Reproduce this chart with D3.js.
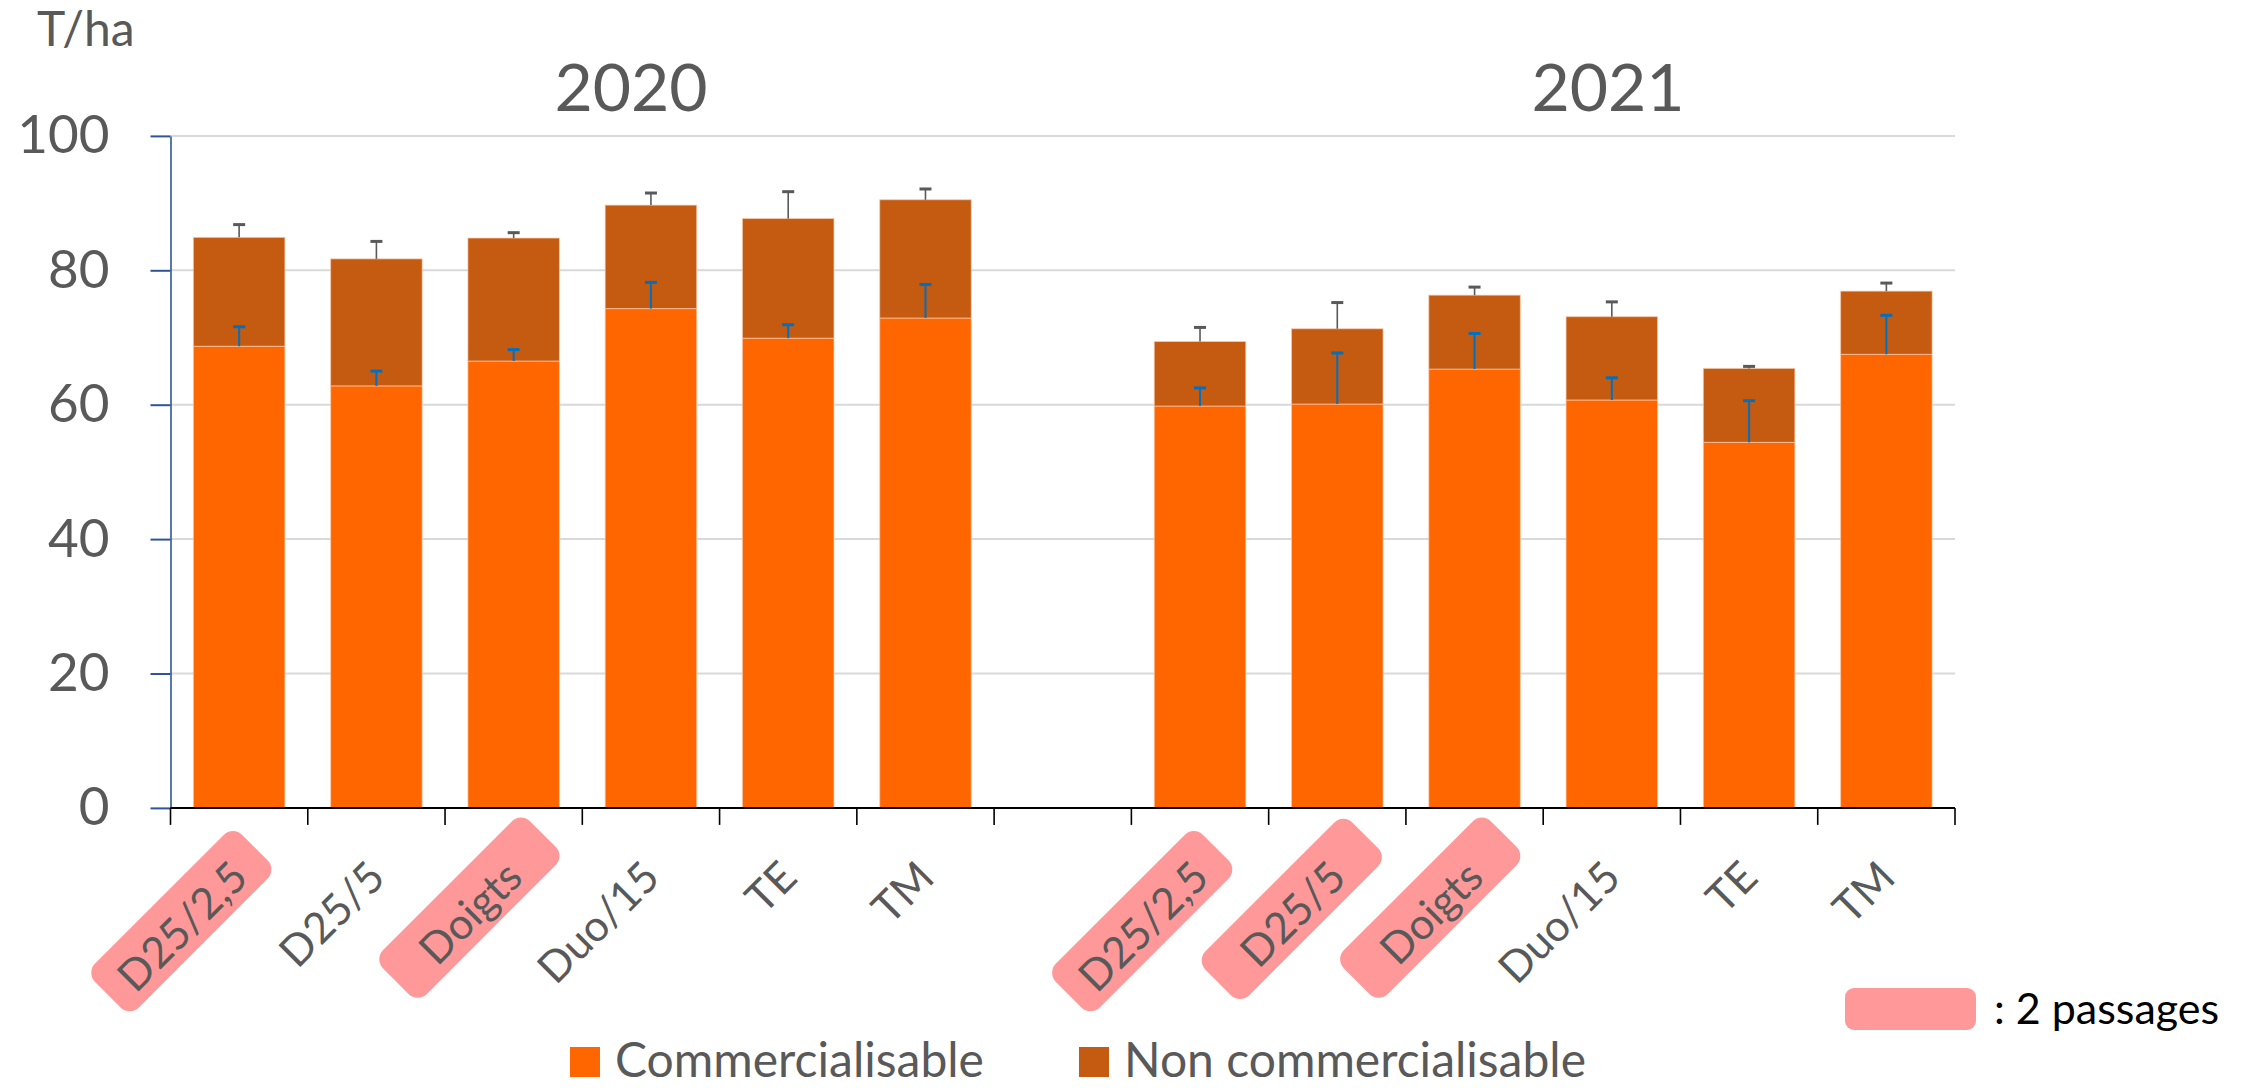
<!DOCTYPE html>
<html>
<head>
<meta charset="utf-8">
<script src="https://cdn.jsdelivr.net/npm/d3@7/dist/d3.min.js"></script>
<style>
  html, body { margin: 0; padding: 0; background: #ffffff; }
  svg { display: block; font-family: Lato, "Open Sans", "DejaVu Sans", sans-serif; }
</style>
</head>
<body>
<svg id="chart" width="2259" height="1088"></svg>
<script>
// ---------- DATA ----------
const years = ["2020", "2021"];
const categories = ["D25/2,5", "D25/5", "Doigts", "Duo/15", "TE", "TM"];
const twoPassages2020 = [true, false, true, false, false, false];
const twoPassages2021 = [true, true, true, false, false, false];

const commercial2020    = [68.7, 62.8, 66.5, 74.3, 69.9, 72.9];
const nonCommercial2020 = [16.2, 18.9, 18.3, 15.4, 17.8, 17.6];
const commErr2020       = [2.9, 2.2, 1.7, 3.9, 2.0, 5.0];
const totalErr2020      = [1.9, 2.6, 0.8, 1.8, 4.0, 1.6];

const commercial2021    = [59.8, 60.1, 65.3, 60.7, 54.4, 67.5];
const nonCommercial2021 = [9.6, 11.2, 11.0, 12.4, 11.0, 9.4];
const commErr2021       = [2.7, 7.6, 5.3, 3.3, 6.2, 5.8];
const totalErr2021      = [2.1, 3.9, 1.2, 2.2, 0.3, 1.2];

const yTicks = [0, 20, 40, 60, 80, 100];
const seriesNames = ["Commercialisable", "Non commercialisable"];
const unitLabel = "T/ha";
const passagesLabel = ": 2 passages";

(function () {
// ---------- BUILD ROWS ----------
const rows = [];
const byYear = {
  "2020": [commercial2020, nonCommercial2020, commErr2020, totalErr2020, twoPassages2020],
  "2021": [commercial2021, nonCommercial2021, commErr2021, totalErr2021, twoPassages2021]
};
years.forEach((yr, yi) => {
  const [c, n, ce, te, tp] = byYear[yr];
  categories.forEach((cat, i) => {
    rows.push({ key: yr + "|" + cat, year: yr, cat, comm: c[i], non: n[i], commErr: ce[i], totErr: te[i], two: tp[i] });
  });
  if (yi < years.length - 1) rows.push({ key: "gap" + yi, gap: true });
});

// ---------- STYLE ----------
const colComm = "#FF6600", colNon = "#C55A11";
const textCol = "#595959";
const axisBlue = "#2F5597";

const svg = d3.select("#chart");
const pLeft = 170.5, pRight = 1955, pTop = 135.9, pBottom = 807.9;

const x = d3.scaleBand().domain(rows.map(d => d.key)).range([pLeft, pRight])
  .paddingInner(1/3).paddingOuter(1/6);
const y = d3.scaleLinear().domain([0, 100]).range([pBottom, pTop]);

// gridlines
svg.append("g").selectAll("line").data(yTicks.filter(v => v > 0)).join("line")
  .attr("x1", pLeft).attr("x2", pRight)
  .attr("y1", d => y(d)).attr("y2", d => y(d))
  .attr("stroke", "#d9d9d9").attr("stroke-width", 2);

const data = rows.filter(d => !d.gap);

// bars
const stack = d3.stack().keys(["comm", "non"])(data);
const colors = [colComm, colNon];
svg.append("g").selectAll("g").data(stack).join("g")
  .attr("fill", (d, i) => colors[i])
  .selectAll("rect").data(d => d).join("rect")
  .attr("x", d => x(d.data.key))
  .attr("width", x.bandwidth())
  .attr("y", d => y(d[1]))
  .attr("height", d => y(d[0]) - y(d[1]))
  .attr("stroke", "#f8cbad").attr("stroke-width", 1).attr("stroke-opacity", 0.7);

// error bars
function errBars(getBase, getErr, color, w) {
  const g = svg.append("g");
  g.selectAll("line.v").data(data).join("line").attr("class", "v")
    .attr("x1", d => x(d.key) + x.bandwidth() / 2).attr("x2", d => x(d.key) + x.bandwidth() / 2)
    .attr("y1", d => y(getBase(d))).attr("y2", d => y(getBase(d) + getErr(d)))
    .attr("stroke", color).attr("stroke-width", w);
  g.selectAll("line.c").data(data).join("line").attr("class", "c")
    .attr("x1", d => x(d.key) + x.bandwidth() / 2 - 6).attr("x2", d => x(d.key) + x.bandwidth() / 2 + 6)
    .attr("y1", d => y(getBase(d) + getErr(d))).attr("y2", d => y(getBase(d) + getErr(d)))
    .attr("stroke", color).attr("stroke-width", 3);
}
errBars(d => d.comm + d.non, d => d.totErr, "#595959", 1.6);
errBars(d => d.comm, d => d.commErr, "#0070C0", 2);

// y axis
const yAxis = svg.append("g").attr("transform", `translate(${pLeft},0)`)
  .call(d3.axisLeft(y).tickValues(yTicks).tickSize(20).tickSizeOuter(0).tickPadding(41));
yAxis.select(".domain").attr("stroke", axisBlue).attr("stroke-width", 1.6);
yAxis.selectAll(".tick line").attr("stroke", axisBlue).attr("stroke-width", 2);
yAxis.selectAll(".tick text").attr("fill", textCol).style("font-size", "53px")
  .style("font-family", "Lato, 'Open Sans', sans-serif");

// x axis line and ticks at band boundaries
const xg = svg.append("g");
xg.append("line").attr("x1", pLeft).attr("x2", pRight).attr("y1", pBottom).attr("y2", pBottom)
  .attr("stroke", "#000").attr("stroke-width", 2);
xg.selectAll("line.t").data(d3.range(rows.length + 1)).join("line").attr("class", "t")
  .attr("x1", i => pLeft + i * x.step()).attr("x2", i => pLeft + i * x.step())
  .attr("y1", pBottom).attr("y2", pBottom + 17)
  .attr("stroke", "#000").attr("stroke-width", 1.6);

// category labels
const labFont = 43, cap = labFont * 0.72;
data.forEach(d => {
  const cx = x(d.key) + x.bandwidth() / 2;
  const g = svg.append("g").attr("transform", `translate(${cx + 11},${pBottom + 72}) rotate(-45)`);
  const box = g.append("rect");
  const t = g.append("text").attr("text-anchor", "end").attr("fill", textCol)
    .style("font-size", labFont + "px").text(d.cat);
  if (d.two) {
    const w = t.node().getComputedTextLength();
    const L = 208, T = 62;
    const mx = -w / 2 + 3, my = -cap / 2 - 4;
    box.attr("x", mx - L / 2).attr("y", my - T / 2).attr("width", L).attr("height", T)
      .attr("rx", 13).attr("fill", "#FF9999");
  } else {
    box.remove();
  }
});

// year titles
const yearX = { "2020": 631, "2021": 1608 };
svg.append("g").selectAll("text").data(years).join("text")
  .attr("x", d => yearX[d]).attr("y", 111).attr("text-anchor", "middle")
  .attr("fill", textCol).style("font-size", "66px").text(d => d);

// unit label
svg.append("text").attr("x", 37).attr("y", 46).attr("fill", textCol)
  .style("font-size", "48px").text(unitLabel);

// legend
const legX = [570, 1079];
const lg = svg.append("g").selectAll("g").data(seriesNames).join("g")
  .attr("transform", (d, i) => `translate(${legX[i]},1047)`);
lg.append("rect").attr("width", 30).attr("height", 30).attr("fill", (d, i) => colors[i]);
lg.append("text").attr("x", 45).attr("y", 30).attr("fill", textCol)
  .style("font-size", "48px").text(d => d);

// 2 passages key
svg.append("rect").attr("x", 1845).attr("y", 988).attr("width", 131).attr("height", 42)
  .attr("rx", 9).attr("fill", "#FF9999");
svg.append("text").attr("x", 1994).attr("y", 1024).attr("fill", "#000")
  .style("font-size", "43px").text(passagesLabel);
})();
</script>
</body>
</html>
